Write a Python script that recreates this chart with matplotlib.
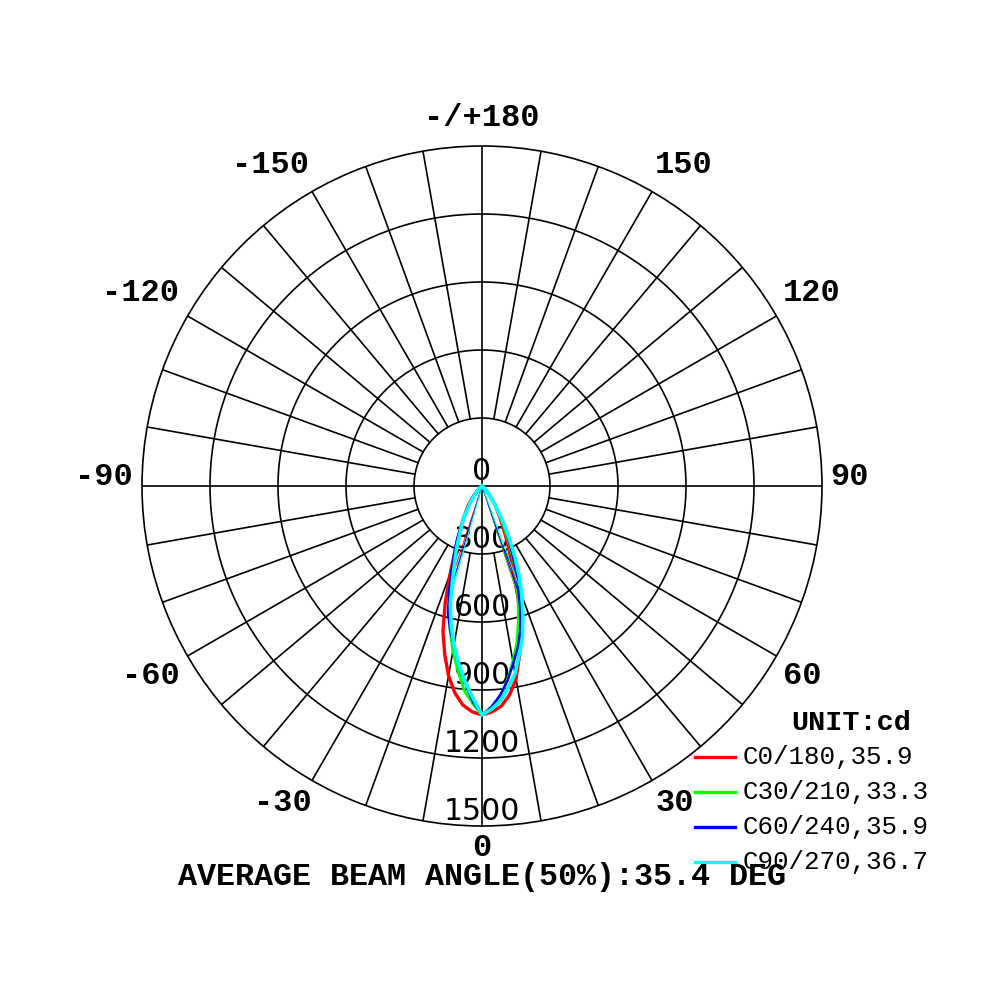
import numpy as np
import matplotlib.pyplot as plt
from matplotlib.lines import Line2D

# gamma angles (deg) and intensities (cd) for each C-plane half
gamma = [0, 2.5, 5, 7.5, 10, 12.5, 15, 17.5, 20, 22.5, 25, 27.5, 30,
         35, 40, 45, 50, 60, 70, 80, 90]
c0 = [1010, 998, 975, 930, 865, 765, 668, 540, 410, 320, 250, 195, 155,
      100, 50, 25, 10, 3, 0, 0, 0]
c180 = [1010, 997, 970, 920, 850, 760, 665, 540, 410, 310, 250, 195, 160,
        110, 60, 30, 12, 3, 0, 0, 0]
c30 = [1010, 975, 935, 860, 785, 710, 620, 530, 450, 370, 290, 220, 170,
       95, 45, 20, 8, 2, 0, 0, 0]
c210 = [1010, 960, 905, 820, 740, 650, 560, 470, 380, 310, 250, 195, 155,
        90, 45, 20, 8, 2, 0, 0, 0]
c60 = [1010, 975, 925, 865, 795, 730, 655, 560, 460, 380, 300, 240, 185,
       100, 50, 25, 10, 3, 0, 0, 0]
c240 = [1010, 950, 870, 790, 715, 650, 580, 480, 390, 320, 260, 200, 160,
        95, 50, 25, 10, 3, 0, 0, 0]
c90 = [1010, 985, 950, 895, 840, 760, 690, 600, 515, 430, 340, 260, 195,
       100, 50, 25, 10, 3, 0, 0, 0]
c270 = [1010, 935, 865, 790, 712, 630, 540, 430, 350, 290, 230, 190, 160,
        90, 45, 20, 8, 2, 0, 0, 0]

labels = ["C0/180,35.9", "C30/210,33.3", "C60/240,35.9", "C90/270,36.7"]
colors = ["#ff0000", "#00ff00", "#0000ff", "#00ffff"]
widths = [2.4, 2.0, 1.8, 2.6]
planes = [(c0, c180), (c30, c210), (c60, c240), (c90, c270)]

ring_values = [300, 600, 900, 1200, 1500]
ring_labels = ["0", "300", "600", "900", "1200", "1500"]
angle_labels = ["0", "30", "60", "90", "120", "150", "-/+180",
                "-150", "-120", "-90", "-60", "-30"]

mono = "Liberation Mono"
R = 1500
px = R / 340.0   # data units per pixel

fig = plt.figure(figsize=(10, 10), dpi=100)
ax = fig.add_axes([0.142, 0.174, 0.68, 0.68], projection="polar")
ax.set_theta_zero_location("S")
ax.set_theta_direction(1)
ax.set_rlim(0, R)
ax.grid(False)
ax.set_xticks([])
ax.set_yticks([])
ax.spines["polar"].set_linewidth(1.2)

# rings
th = np.linspace(0, 2 * np.pi, 400)
for rv in ring_values[:-1]:
    ax.plot(th, np.full_like(th, rv), color="black", lw=1.2)

# spokes every 10 deg, starting at the first ring
for a in range(0, 360, 10):
    r0 = 0 if a % 90 == 0 else ring_values[0]
    ax.plot([np.deg2rad(a)] * 2, [r0, R], color="black", lw=1.2)

# radial value labels along the 0 direction
for rv, lab in zip([0] + ring_values, ring_labels):
    ax.text(0, rv, lab, ha="center", va="bottom", fontsize=21.5,
            family="DejaVu Sans", zorder=3)

# angle labels (angle in deg, radius in px from centre)
label_pos = [(0, 362), (31.3, 371), (59.3, 372), (91.4, 368),
             (120.3, 382), (147.8, 379), (180, 368), (-146.6, 385),
             (-119.5, 392), (-91.4, 378), (-60.1, 382), (-32.1, 374)]
for (a, rp), lab in zip(label_pos, angle_labels):
    ax.text(np.deg2rad(a), rp * px, lab, ha="center", va="center",
            fontsize=23, family=mono, fontweight="bold", clip_on=False)

# curves
g = np.deg2rad(gamma)
for (right, left), col, lw in zip(planes, colors, widths):
    theta = np.concatenate([-g[::-1], g[1:]])
    r = np.concatenate([left[::-1], right[1:]])
    ax.plot(theta, r, color=col, lw=lw, zorder=4)
    # beam (50%) lines from the centre
    for side, sign in ((right, 1), (left, -1)):
        half = 0.5 * side[0]
        gh = np.interp(half, side[::-1], gamma[::-1])
        ax.plot([sign * np.deg2rad(gh)] * 2, [0, half], color=col,
                lw=0.7, zorder=4)

# legend
fig.text(0.851, 1 - 0.723, "UNIT:cd", ha="center", va="center",
         fontsize=20.5, family=mono, fontweight="bold")
for i, (lab, col) in enumerate(zip(labels, colors)):
    y = 1 - (0.757 + 0.035 * i)
    fig.add_artist(Line2D([0.695, 0.735], [y, y], color=col, lw=2.4,
                          transform=fig.transFigure))
    fig.text(0.743, y, lab, ha="left", va="center", fontsize=18.6,
             family=mono)

fig.text(0.482, 1 - 0.885, "AVERAGE BEAM ANGLE(50%):35.4 DEG",
         ha="center", va="baseline", fontsize=22.9, family=mono,
         fontweight="bold")

fig.savefig("out.png", dpi=100)
